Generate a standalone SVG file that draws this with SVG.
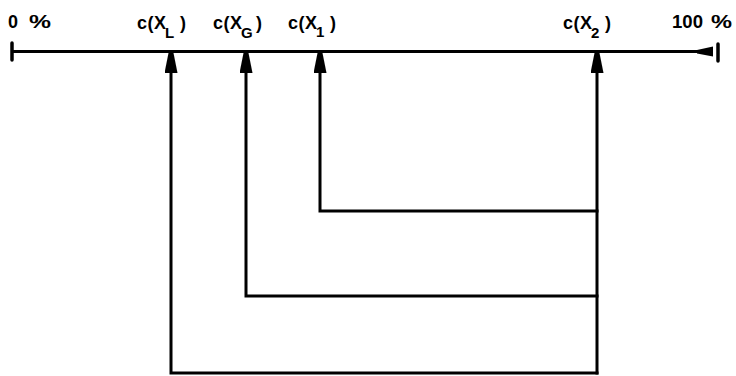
<svg xmlns="http://www.w3.org/2000/svg" width="736" height="376" viewBox="0 0 736 376">
<style>
.t{font-family:"Liberation Sans",Arial,sans-serif;font-weight:bold;font-size:18px;fill:#000}
.s{font-family:"Liberation Sans",Arial,sans-serif;font-weight:bold;font-size:15px;fill:#000}
.ln{fill:none;stroke:#000;stroke-width:3;stroke-linejoin:miter;stroke-linecap:square}
</style>
<defs>
<marker id="ah" markerUnits="userSpaceOnUse" viewBox="0 0 20 13" markerWidth="20" markerHeight="13" refX="20" refY="6.5" orient="auto-start-reverse">
<path d="M0,0 L20,4 L20,9 L0,13 Z" fill="#000"/>
</marker>
</defs>
<rect width="736" height="376" fill="#fff"/>
<g id="axis">
<line x1="12" y1="51.5" x2="700" y2="51.5" stroke="#000" stroke-width="3"/>
<line x1="12" y1="43" x2="12" y2="60" stroke="#000" stroke-width="3.5" stroke-linecap="round"/>
<polygon points="697,50 713,46.5 713,56.5 697,53.5" fill="#000"/>
<line x1="718" y1="44" x2="718" y2="61" stroke="#000" stroke-width="3.5" stroke-linecap="round"/>
</g>
<g id="label-0">
<text class="t" x="8" y="28">0</text>
<text class="t" x="29" y="28" textLength="22" lengthAdjust="spacingAndGlyphs">%</text>
</g>
<g id="label-100">
<text class="t" x="672" y="28" textLength="31" lengthAdjust="spacingAndGlyphs">100</text>
<text class="t" x="711" y="28" textLength="21" lengthAdjust="spacingAndGlyphs">%</text>
</g>
<g id="node-xL">
<text class="t" x="137" y="29" textLength="29">c(X</text>
<text class="s" x="165" y="38">L</text>
<text class="t" x="180" y="29">)</text>
</g>
<g id="node-xG">
<text class="t" x="213" y="29" textLength="29">c(X</text>
<text class="s" x="241" y="38">G</text>
<text class="t" x="256" y="29">)</text>
</g>
<g id="node-x1">
<text class="t" x="288" y="29" textLength="29">c(X</text>
<text class="s" x="316" y="37">1</text>
<text class="t" x="330" y="29">)</text>
</g>
<g id="node-x2">
<text class="t" x="563" y="29" textLength="29">c(X</text>
<text class="s" x="591" y="38">2</text>
<text class="t" x="605" y="29">)</text>
</g>
<g id="connectors">
<path class="ln" d="M320,53 V211 H597" marker-start="url(#ah)"/>
<path class="ln" d="M246,53 V296 H597" marker-start="url(#ah)"/>
<path class="ln" d="M171,53 V373 H597" marker-start="url(#ah)"/>
<path class="ln" d="M597,53 V373" marker-start="url(#ah)"/>
</g>
</svg>
